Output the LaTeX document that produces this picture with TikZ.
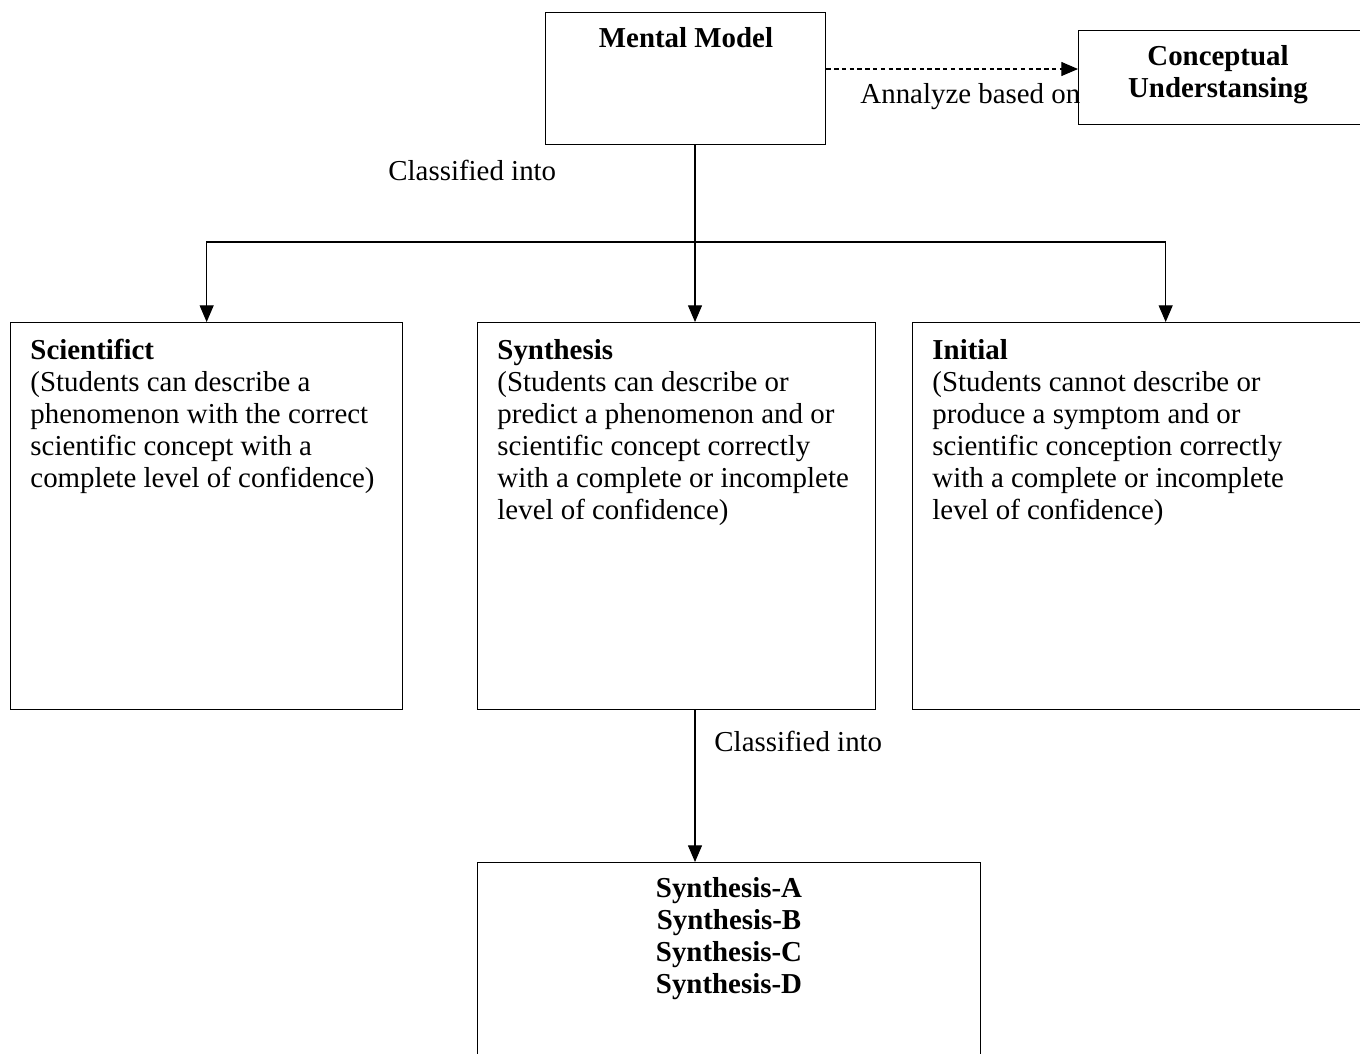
\documentclass[tikz,border=0pt]{standalone}
\usepackage{fontspec}
\setmainfont{Liberation Serif}
\usetikzlibrary{positioning,calc,arrows.meta}

\tikzset{
  box/.style={draw, line width=0.6pt, inner sep=0pt, anchor=north west},
  txt/.style={inner sep=0pt, align=left, anchor=north west,
    font=\fontsize{13}{14.4}\selectfont},
  ctxt/.style={inner sep=0pt, align=center,
    font=\fontsize{13}{14.4}\selectfont\bfseries},
  lbl/.style={inner sep=0pt, anchor=west, font=\fontsize{13}{14.4}\selectfont},
  conn/.style={line width=0.5pt},
  arr/.style={conn, -{Triangle[length=7.5pt,width=6.3pt]}},
  dasharr/.style={arr, dashed, dash pattern=on 2pt off 1.5pt},
}

\begin{document}
\begin{tikzpicture}[x=0.45pt,y=-0.45pt]
\useasboundingbox (0,0) rectangle (1360,1053);
\clip (0,0) rectangle (1360,1053);

% top row
\node[box, minimum width=126pt, minimum height=59.4pt] (mental) at (545,12) {};
\node[ctxt] (mentaltext) at (686,38) {Mental Model};
\node[box, minimum width=135pt, minimum height=42.3pt] (concept) at (1078,30) {};
\node[ctxt] (concepttext) at (1218,75) {Conceptual\\Understansing};

% the three levels
\node[box, minimum width=176.4pt, minimum height=174.15pt] (sci) at (10,322) {};
\node[box, minimum width=179.1pt, minimum height=174.15pt] (syn) at (477,322) {};
\node[box, minimum width=227.7pt, minimum height=174.15pt] (init) at (912,322) {};

\node[txt] (scitext) at (30,339) {\textbf{Scientifict}\\
(Students can describe a\\
phenomenon with the correct\\
scientific concept with a\\
complete level of confidence)};
\node[txt] (syntext) at (497,339) {\textbf{Synthesis}\\
(Students can describe or\\
predict a phenomenon and or\\
scientific concept correctly\\
with a complete or incomplete\\
level of confidence)};
\node[txt] (inittext) at (932,339) {\textbf{Initial}\\
(Students cannot describe or\\
produce a symptom and or\\
scientific conception correctly\\
with a complete or incomplete\\
level of confidence)};

% synthesis subtypes
\node[box, minimum width=226.35pt, minimum height=90pt] (sub) at (477,862) {};
\node[ctxt] (subtext) at (729,939) {Synthesis-A\\Synthesis-B\\Synthesis-C\\Synthesis-D};

% connectors
\coordinate (trunk) at (695,144);
\coordinate (split) at (695,242);
\coordinate (dashy) at (0,69);
\draw[dasharr] (mental.east |- dashy) -- (concept.west |- dashy);
\node[lbl] (annlabel) at (860,97) {Annalyze based on};
\draw[arr] (mental.south -| trunk) -- (syn.north -| trunk);
\draw[arr] (split) -| (sci.north);
\draw[arr] (split) -| (init.north);
\node[lbl] (classlabel) at (388,170) {Classified into};
\draw[arr] (syn.south -| trunk) -- (sub.north -| trunk);
\node[lbl] (sublabel) at (714,741) {Classified into};
\end{tikzpicture}
\end{document}
